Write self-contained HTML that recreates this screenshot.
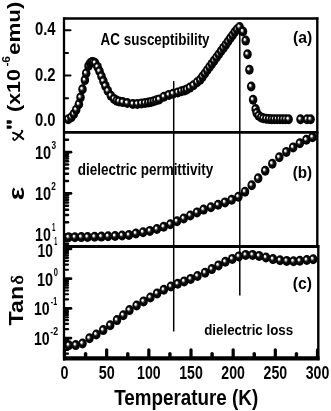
<!DOCTYPE html><html><head><meta charset="utf-8"><style>html,body{margin:0;padding:0;background:#fff;}svg{display:block;filter:grayscale(1);}</style></head><body><svg width="331" height="411" viewBox="0 0 331 411">
<defs><radialGradient id="sph" cx="0.5" cy="0.5" r="0.5" fx="0.34" fy="0.36"><stop offset="0" stop-color="#ffffff"/><stop offset="0.18" stop-color="#eeeeee"/><stop offset="0.37" stop-color="#404040"/><stop offset="0.52" stop-color="#0a0a0a"/><stop offset="1" stop-color="#000"/></radialGradient></defs>
<rect width="331" height="411" fill="#fff"/>
<g stroke="#000" stroke-width="1.5">
<line x1="173.7" y1="81" x2="173.7" y2="331.5"/>
<line x1="239.8" y1="25" x2="239.8" y2="295.5"/>
</g>
<g stroke="#000" stroke-linecap="round" stroke-width="2">
<line x1="64.50" y1="357" x2="64.50" y2="349.8" stroke-width="3.2"/>
<line x1="85.58" y1="357" x2="85.58" y2="353.6" stroke-width="3.4"/>
<line x1="106.67" y1="357" x2="106.67" y2="349.8" stroke-width="3.2"/>
<line x1="127.75" y1="357" x2="127.75" y2="353.6" stroke-width="3.4"/>
<line x1="148.83" y1="357" x2="148.83" y2="349.8" stroke-width="3.2"/>
<line x1="169.92" y1="357" x2="169.92" y2="353.6" stroke-width="3.4"/>
<line x1="191.00" y1="357" x2="191.00" y2="349.8" stroke-width="3.2"/>
<line x1="212.08" y1="357" x2="212.08" y2="353.6" stroke-width="3.4"/>
<line x1="233.17" y1="357" x2="233.17" y2="349.8" stroke-width="3.2"/>
<line x1="254.25" y1="357" x2="254.25" y2="353.6" stroke-width="3.4"/>
<line x1="275.33" y1="357" x2="275.33" y2="349.8" stroke-width="3.2"/>
<line x1="296.42" y1="357" x2="296.42" y2="353.6" stroke-width="3.4"/>
<line x1="317.50" y1="357" x2="317.50" y2="349.8" stroke-width="3.2"/>
<line x1="65" y1="98.25" x2="68" y2="98.25"/>
<line x1="65" y1="52.95" x2="68" y2="52.95"/>
<line x1="65" y1="75.60" x2="70.5" y2="75.60"/>
<line x1="65" y1="30.30" x2="70.5" y2="30.30"/>
<line x1="65" y1="243.74" x2="68" y2="243.74" stroke-width="2.5"/>
<line x1="65" y1="240.98" x2="68" y2="240.98" stroke-width="2.5"/>
<line x1="65" y1="238.59" x2="68" y2="238.59" stroke-width="2.5"/>
<line x1="65" y1="236.49" x2="68" y2="236.49" stroke-width="2.5"/>
<line x1="65" y1="234.60" x2="71" y2="234.60" stroke-width="2.7"/>
<line x1="65" y1="222.20" x2="68" y2="222.20" stroke-width="2.5"/>
<line x1="65" y1="214.94" x2="68" y2="214.94" stroke-width="2.5"/>
<line x1="65" y1="209.80" x2="68" y2="209.80" stroke-width="2.5"/>
<line x1="65" y1="205.80" x2="68" y2="205.80" stroke-width="2.5"/>
<line x1="65" y1="202.54" x2="68" y2="202.54" stroke-width="2.5"/>
<line x1="65" y1="199.78" x2="68" y2="199.78" stroke-width="2.5"/>
<line x1="65" y1="197.39" x2="68" y2="197.39" stroke-width="2.5"/>
<line x1="65" y1="195.29" x2="68" y2="195.29" stroke-width="2.5"/>
<line x1="65" y1="193.40" x2="71" y2="193.40" stroke-width="2.7"/>
<line x1="65" y1="181.00" x2="68" y2="181.00" stroke-width="2.5"/>
<line x1="65" y1="173.74" x2="68" y2="173.74" stroke-width="2.5"/>
<line x1="65" y1="168.60" x2="68" y2="168.60" stroke-width="2.5"/>
<line x1="65" y1="164.60" x2="68" y2="164.60" stroke-width="2.5"/>
<line x1="65" y1="161.34" x2="68" y2="161.34" stroke-width="2.5"/>
<line x1="65" y1="158.58" x2="68" y2="158.58" stroke-width="2.5"/>
<line x1="65" y1="156.19" x2="68" y2="156.19" stroke-width="2.5"/>
<line x1="65" y1="154.09" x2="68" y2="154.09" stroke-width="2.5"/>
<line x1="65" y1="152.20" x2="71" y2="152.20" stroke-width="2.7"/>
<line x1="65" y1="139.80" x2="68" y2="139.80" stroke-width="2.5"/>
<line x1="65" y1="353.63" x2="68" y2="353.63" stroke-width="2.2"/>
<line x1="65" y1="349.92" x2="68" y2="349.92" stroke-width="2.2"/>
<line x1="65" y1="347.04" x2="68" y2="347.04" stroke-width="2.2"/>
<line x1="65" y1="344.69" x2="68" y2="344.69" stroke-width="2.2"/>
<line x1="65" y1="342.70" x2="68" y2="342.70" stroke-width="2.2"/>
<line x1="65" y1="340.98" x2="68" y2="340.98" stroke-width="2.2"/>
<line x1="65" y1="339.46" x2="68" y2="339.46" stroke-width="2.2"/>
<line x1="65" y1="338.10" x2="71" y2="338.10" stroke-width="2.7"/>
<line x1="65" y1="329.16" x2="68" y2="329.16" stroke-width="2.2"/>
<line x1="65" y1="323.93" x2="68" y2="323.93" stroke-width="2.2"/>
<line x1="65" y1="320.22" x2="68" y2="320.22" stroke-width="2.2"/>
<line x1="65" y1="317.34" x2="68" y2="317.34" stroke-width="2.2"/>
<line x1="65" y1="314.99" x2="68" y2="314.99" stroke-width="2.2"/>
<line x1="65" y1="313.00" x2="68" y2="313.00" stroke-width="2.2"/>
<line x1="65" y1="311.28" x2="68" y2="311.28" stroke-width="2.2"/>
<line x1="65" y1="309.76" x2="68" y2="309.76" stroke-width="2.2"/>
<line x1="65" y1="308.40" x2="71" y2="308.40" stroke-width="2.7"/>
<line x1="65" y1="299.46" x2="68" y2="299.46" stroke-width="2.2"/>
<line x1="65" y1="294.23" x2="68" y2="294.23" stroke-width="2.2"/>
<line x1="65" y1="290.52" x2="68" y2="290.52" stroke-width="2.2"/>
<line x1="65" y1="287.64" x2="68" y2="287.64" stroke-width="2.2"/>
<line x1="65" y1="285.29" x2="68" y2="285.29" stroke-width="2.2"/>
<line x1="65" y1="283.30" x2="68" y2="283.30" stroke-width="2.2"/>
<line x1="65" y1="281.58" x2="68" y2="281.58" stroke-width="2.2"/>
<line x1="65" y1="280.06" x2="68" y2="280.06" stroke-width="2.2"/>
<line x1="65" y1="278.70" x2="71" y2="278.70" stroke-width="2.7"/>
<line x1="65" y1="269.76" x2="68" y2="269.76" stroke-width="2.2"/>
<line x1="65" y1="264.53" x2="68" y2="264.53" stroke-width="2.2"/>
<line x1="65" y1="260.82" x2="68" y2="260.82" stroke-width="2.2"/>
<line x1="65" y1="257.94" x2="68" y2="257.94" stroke-width="2.2"/>
<line x1="65" y1="255.59" x2="68" y2="255.59" stroke-width="2.2"/>
<line x1="65" y1="253.60" x2="68" y2="253.60" stroke-width="2.2"/>
<line x1="65" y1="251.88" x2="68" y2="251.88" stroke-width="2.2"/>
<line x1="65" y1="250.36" x2="68" y2="250.36" stroke-width="2.2"/>
<line x1="65" y1="249.00" x2="71" y2="249.00" stroke-width="2.7"/>
</g>
<g>
<ellipse cx="68.20" cy="119.30" rx="4.25" ry="5.0" fill="url(#sph)"/>
<ellipse cx="71.40" cy="117.20" rx="4.25" ry="5.0" fill="url(#sph)"/>
<ellipse cx="73.90" cy="114.00" rx="4.25" ry="5.0" fill="url(#sph)"/>
<ellipse cx="76.20" cy="109.70" rx="4.25" ry="5.0" fill="url(#sph)"/>
<ellipse cx="78.90" cy="104.30" rx="4.25" ry="5.0" fill="url(#sph)"/>
<ellipse cx="80.50" cy="97.40" rx="4.25" ry="5.0" fill="url(#sph)"/>
<ellipse cx="82.50" cy="89.30" rx="4.25" ry="5.0" fill="url(#sph)"/>
<ellipse cx="84.90" cy="80.10" rx="4.25" ry="5.0" fill="url(#sph)"/>
<ellipse cx="86.20" cy="73.30" rx="4.25" ry="5.0" fill="url(#sph)"/>
<ellipse cx="88.50" cy="66.00" rx="4.25" ry="5.0" fill="url(#sph)"/>
<ellipse cx="90.20" cy="63.20" rx="4.25" ry="5.0" fill="url(#sph)"/>
<ellipse cx="92.00" cy="62.10" rx="4.25" ry="5.0" fill="url(#sph)"/>
<ellipse cx="93.60" cy="62.20" rx="4.25" ry="5.0" fill="url(#sph)"/>
<ellipse cx="95.10" cy="63.00" rx="4.25" ry="5.0" fill="url(#sph)"/>
<ellipse cx="97.60" cy="66.90" rx="4.25" ry="5.0" fill="url(#sph)"/>
<ellipse cx="99.50" cy="71.30" rx="4.25" ry="5.0" fill="url(#sph)"/>
<ellipse cx="101.50" cy="76.20" rx="4.25" ry="5.0" fill="url(#sph)"/>
<ellipse cx="103.40" cy="81.10" rx="4.25" ry="5.0" fill="url(#sph)"/>
<ellipse cx="105.40" cy="85.90" rx="4.25" ry="5.0" fill="url(#sph)"/>
<ellipse cx="107.80" cy="90.80" rx="4.25" ry="5.0" fill="url(#sph)"/>
<ellipse cx="110.90" cy="95.70" rx="4.25" ry="5.0" fill="url(#sph)"/>
<ellipse cx="114.10" cy="98.90" rx="4.25" ry="5.0" fill="url(#sph)"/>
<ellipse cx="116.80" cy="100.70" rx="4.25" ry="5.0" fill="url(#sph)"/>
<ellipse cx="119.10" cy="101.40" rx="4.25" ry="5.0" fill="url(#sph)"/>
<ellipse cx="122.70" cy="102.10" rx="4.25" ry="5.0" fill="url(#sph)"/>
<ellipse cx="127.30" cy="103.00" rx="4.25" ry="5.0" fill="url(#sph)"/>
<ellipse cx="132.90" cy="103.90" rx="4.25" ry="5.0" fill="url(#sph)"/>
<ellipse cx="137.40" cy="103.90" rx="4.25" ry="5.0" fill="url(#sph)"/>
<ellipse cx="141.50" cy="103.40" rx="4.25" ry="5.0" fill="url(#sph)"/>
<ellipse cx="145.10" cy="103.00" rx="4.25" ry="5.0" fill="url(#sph)"/>
<ellipse cx="148.30" cy="102.50" rx="4.25" ry="5.0" fill="url(#sph)"/>
<ellipse cx="151.00" cy="101.90" rx="4.25" ry="5.0" fill="url(#sph)"/>
<ellipse cx="153.70" cy="101.20" rx="4.25" ry="5.0" fill="url(#sph)"/>
<ellipse cx="156.40" cy="100.30" rx="4.25" ry="5.0" fill="url(#sph)"/>
<ellipse cx="159.20" cy="99.40" rx="4.25" ry="5.0" fill="url(#sph)"/>
<ellipse cx="163.90" cy="96.70" rx="4.25" ry="5.0" fill="url(#sph)"/>
<ellipse cx="168.80" cy="94.90" rx="4.25" ry="5.0" fill="url(#sph)"/>
<ellipse cx="173.00" cy="93.70" rx="4.25" ry="5.0" fill="url(#sph)"/>
<ellipse cx="177.80" cy="92.40" rx="4.25" ry="5.0" fill="url(#sph)"/>
<ellipse cx="181.40" cy="91.20" rx="4.25" ry="5.0" fill="url(#sph)"/>
<ellipse cx="184.50" cy="90.40" rx="4.25" ry="5.0" fill="url(#sph)"/>
<ellipse cx="186.90" cy="89.40" rx="4.25" ry="5.0" fill="url(#sph)"/>
<ellipse cx="189.90" cy="87.60" rx="4.25" ry="5.0" fill="url(#sph)"/>
<ellipse cx="193.50" cy="85.20" rx="4.25" ry="5.0" fill="url(#sph)"/>
<ellipse cx="197.10" cy="82.20" rx="4.25" ry="5.0" fill="url(#sph)"/>
<ellipse cx="200.20" cy="79.80" rx="4.25" ry="5.0" fill="url(#sph)"/>
<ellipse cx="202.53" cy="76.61" rx="4.25" ry="5.0" fill="url(#sph)"/>
<ellipse cx="204.85" cy="73.42" rx="4.25" ry="5.0" fill="url(#sph)"/>
<ellipse cx="207.18" cy="70.23" rx="4.25" ry="5.0" fill="url(#sph)"/>
<ellipse cx="209.51" cy="67.04" rx="4.25" ry="5.0" fill="url(#sph)"/>
<ellipse cx="211.84" cy="63.85" rx="4.25" ry="5.0" fill="url(#sph)"/>
<ellipse cx="214.16" cy="60.65" rx="4.25" ry="5.0" fill="url(#sph)"/>
<ellipse cx="216.49" cy="57.46" rx="4.25" ry="5.0" fill="url(#sph)"/>
<ellipse cx="218.82" cy="54.27" rx="4.25" ry="5.0" fill="url(#sph)"/>
<ellipse cx="221.15" cy="51.08" rx="4.25" ry="5.0" fill="url(#sph)"/>
<ellipse cx="223.47" cy="47.89" rx="4.25" ry="5.0" fill="url(#sph)"/>
<ellipse cx="225.80" cy="44.70" rx="4.25" ry="5.0" fill="url(#sph)"/>
<ellipse cx="228.00" cy="41.50" rx="4.25" ry="5.0" fill="url(#sph)"/>
<ellipse cx="230.30" cy="38.30" rx="4.25" ry="5.0" fill="url(#sph)"/>
<ellipse cx="232.60" cy="35.20" rx="4.25" ry="5.0" fill="url(#sph)"/>
<ellipse cx="234.80" cy="32.00" rx="4.25" ry="5.0" fill="url(#sph)"/>
<ellipse cx="237.10" cy="29.30" rx="4.25" ry="5.0" fill="url(#sph)"/>
<ellipse cx="239.60" cy="27.00" rx="4.25" ry="5.0" fill="url(#sph)"/>
<ellipse cx="243.00" cy="31.50" rx="4.25" ry="5.0" fill="url(#sph)"/>
<ellipse cx="245.70" cy="40.60" rx="4.25" ry="5.0" fill="url(#sph)"/>
<ellipse cx="247.50" cy="54.20" rx="4.25" ry="5.0" fill="url(#sph)"/>
<ellipse cx="249.40" cy="69.80" rx="4.25" ry="5.0" fill="url(#sph)"/>
<ellipse cx="251.20" cy="86.50" rx="4.25" ry="5.0" fill="url(#sph)"/>
<ellipse cx="253.10" cy="99.70" rx="4.25" ry="5.0" fill="url(#sph)"/>
<ellipse cx="255.60" cy="109.00" rx="4.25" ry="5.0" fill="url(#sph)"/>
<ellipse cx="256.70" cy="112.90" rx="4.25" ry="5.0" fill="url(#sph)"/>
<ellipse cx="258.70" cy="115.70" rx="4.25" ry="5.0" fill="url(#sph)"/>
<ellipse cx="261.20" cy="117.40" rx="4.25" ry="5.0" fill="url(#sph)"/>
<ellipse cx="263.40" cy="118.30" rx="4.25" ry="5.0" fill="url(#sph)"/>
<ellipse cx="266.20" cy="118.70" rx="4.25" ry="5.0" fill="url(#sph)"/>
<ellipse cx="269.00" cy="119.00" rx="4.25" ry="5.0" fill="url(#sph)"/>
<ellipse cx="271.80" cy="119.20" rx="4.25" ry="5.0" fill="url(#sph)"/>
<ellipse cx="274.40" cy="119.20" rx="4.25" ry="5.0" fill="url(#sph)"/>
<ellipse cx="277.20" cy="119.20" rx="4.25" ry="5.0" fill="url(#sph)"/>
<ellipse cx="280.00" cy="119.20" rx="4.25" ry="5.0" fill="url(#sph)"/>
<ellipse cx="282.80" cy="119.20" rx="4.25" ry="5.0" fill="url(#sph)"/>
<ellipse cx="285.60" cy="119.20" rx="4.25" ry="5.0" fill="url(#sph)"/>
<ellipse cx="288.60" cy="119.20" rx="4.25" ry="5.0" fill="url(#sph)"/>
<ellipse cx="300.50" cy="119.30" rx="4.25" ry="5.0" fill="url(#sph)"/>
<ellipse cx="307.00" cy="119.30" rx="4.25" ry="5.0" fill="url(#sph)"/>
<ellipse cx="310.60" cy="119.30" rx="4.25" ry="5.0" fill="url(#sph)"/>
<ellipse cx="68.60" cy="237.30" rx="4.25" ry="5.0" fill="url(#sph)"/>
<ellipse cx="74.90" cy="237.20" rx="4.25" ry="5.0" fill="url(#sph)"/>
<ellipse cx="81.30" cy="237.10" rx="4.25" ry="5.0" fill="url(#sph)"/>
<ellipse cx="87.60" cy="237.00" rx="4.25" ry="5.0" fill="url(#sph)"/>
<ellipse cx="94.60" cy="236.80" rx="4.25" ry="5.0" fill="url(#sph)"/>
<ellipse cx="101.40" cy="236.60" rx="4.25" ry="5.0" fill="url(#sph)"/>
<ellipse cx="108.10" cy="236.30" rx="4.25" ry="5.0" fill="url(#sph)"/>
<ellipse cx="115.10" cy="236.00" rx="4.25" ry="5.0" fill="url(#sph)"/>
<ellipse cx="122.10" cy="235.50" rx="4.25" ry="5.0" fill="url(#sph)"/>
<ellipse cx="128.90" cy="235.00" rx="4.25" ry="5.0" fill="url(#sph)"/>
<ellipse cx="135.90" cy="233.50" rx="4.25" ry="5.0" fill="url(#sph)"/>
<ellipse cx="143.10" cy="232.20" rx="4.25" ry="5.0" fill="url(#sph)"/>
<ellipse cx="149.90" cy="230.90" rx="4.25" ry="5.0" fill="url(#sph)"/>
<ellipse cx="156.90" cy="229.00" rx="4.25" ry="5.0" fill="url(#sph)"/>
<ellipse cx="163.70" cy="226.80" rx="4.25" ry="5.0" fill="url(#sph)"/>
<ellipse cx="170.40" cy="224.20" rx="4.25" ry="5.0" fill="url(#sph)"/>
<ellipse cx="177.00" cy="221.30" rx="4.25" ry="5.0" fill="url(#sph)"/>
<ellipse cx="183.70" cy="218.50" rx="4.25" ry="5.0" fill="url(#sph)"/>
<ellipse cx="190.30" cy="215.50" rx="4.25" ry="5.0" fill="url(#sph)"/>
<ellipse cx="197.00" cy="212.40" rx="4.25" ry="5.0" fill="url(#sph)"/>
<ellipse cx="203.60" cy="209.60" rx="4.25" ry="5.0" fill="url(#sph)"/>
<ellipse cx="210.90" cy="207.20" rx="4.25" ry="5.0" fill="url(#sph)"/>
<ellipse cx="218.10" cy="204.80" rx="4.25" ry="5.0" fill="url(#sph)"/>
<ellipse cx="225.00" cy="202.40" rx="4.25" ry="5.0" fill="url(#sph)"/>
<ellipse cx="231.70" cy="199.80" rx="4.25" ry="5.0" fill="url(#sph)"/>
<ellipse cx="238.40" cy="196.70" rx="4.25" ry="5.0" fill="url(#sph)"/>
<ellipse cx="245.00" cy="191.70" rx="4.25" ry="5.0" fill="url(#sph)"/>
<ellipse cx="251.70" cy="185.30" rx="4.25" ry="5.0" fill="url(#sph)"/>
<ellipse cx="258.20" cy="178.30" rx="4.25" ry="5.0" fill="url(#sph)"/>
<ellipse cx="265.20" cy="170.70" rx="4.25" ry="5.0" fill="url(#sph)"/>
<ellipse cx="272.30" cy="163.70" rx="4.25" ry="5.0" fill="url(#sph)"/>
<ellipse cx="279.30" cy="157.30" rx="4.25" ry="5.0" fill="url(#sph)"/>
<ellipse cx="286.30" cy="151.90" rx="4.25" ry="5.0" fill="url(#sph)"/>
<ellipse cx="293.10" cy="147.40" rx="4.25" ry="5.0" fill="url(#sph)"/>
<ellipse cx="299.80" cy="143.20" rx="4.25" ry="5.0" fill="url(#sph)"/>
<ellipse cx="306.40" cy="139.80" rx="4.25" ry="5.0" fill="url(#sph)"/>
<ellipse cx="312.50" cy="137.20" rx="4.25" ry="5.0" fill="url(#sph)"/>
<ellipse cx="68.80" cy="345.30" rx="4.25" ry="5.0" fill="url(#sph)"/>
<ellipse cx="75.70" cy="345.10" rx="4.25" ry="5.0" fill="url(#sph)"/>
<ellipse cx="82.50" cy="343.50" rx="4.25" ry="5.0" fill="url(#sph)"/>
<ellipse cx="89.50" cy="338.30" rx="4.25" ry="5.0" fill="url(#sph)"/>
<ellipse cx="96.30" cy="334.50" rx="4.25" ry="5.0" fill="url(#sph)"/>
<ellipse cx="103.20" cy="330.10" rx="4.25" ry="5.0" fill="url(#sph)"/>
<ellipse cx="110.20" cy="325.30" rx="4.25" ry="5.0" fill="url(#sph)"/>
<ellipse cx="117.00" cy="320.10" rx="4.25" ry="5.0" fill="url(#sph)"/>
<ellipse cx="123.30" cy="315.20" rx="4.25" ry="5.0" fill="url(#sph)"/>
<ellipse cx="129.50" cy="310.10" rx="4.25" ry="5.0" fill="url(#sph)"/>
<ellipse cx="136.60" cy="305.50" rx="4.25" ry="5.0" fill="url(#sph)"/>
<ellipse cx="143.60" cy="301.40" rx="4.25" ry="5.0" fill="url(#sph)"/>
<ellipse cx="150.40" cy="297.50" rx="4.25" ry="5.0" fill="url(#sph)"/>
<ellipse cx="157.10" cy="293.40" rx="4.25" ry="5.0" fill="url(#sph)"/>
<ellipse cx="163.80" cy="289.80" rx="4.25" ry="5.0" fill="url(#sph)"/>
<ellipse cx="170.90" cy="286.50" rx="4.25" ry="5.0" fill="url(#sph)"/>
<ellipse cx="177.70" cy="283.80" rx="4.25" ry="5.0" fill="url(#sph)"/>
<ellipse cx="184.20" cy="281.40" rx="4.25" ry="5.0" fill="url(#sph)"/>
<ellipse cx="190.70" cy="278.90" rx="4.25" ry="5.0" fill="url(#sph)"/>
<ellipse cx="197.50" cy="276.00" rx="4.25" ry="5.0" fill="url(#sph)"/>
<ellipse cx="205.10" cy="272.70" rx="4.25" ry="5.0" fill="url(#sph)"/>
<ellipse cx="211.80" cy="269.10" rx="4.25" ry="5.0" fill="url(#sph)"/>
<ellipse cx="218.50" cy="265.40" rx="4.25" ry="5.0" fill="url(#sph)"/>
<ellipse cx="225.40" cy="261.80" rx="4.25" ry="5.0" fill="url(#sph)"/>
<ellipse cx="232.30" cy="258.90" rx="4.25" ry="5.0" fill="url(#sph)"/>
<ellipse cx="238.80" cy="256.40" rx="4.25" ry="5.0" fill="url(#sph)"/>
<ellipse cx="245.70" cy="254.90" rx="4.25" ry="5.0" fill="url(#sph)"/>
<ellipse cx="252.60" cy="254.90" rx="4.25" ry="5.0" fill="url(#sph)"/>
<ellipse cx="259.10" cy="255.90" rx="4.25" ry="5.0" fill="url(#sph)"/>
<ellipse cx="266.00" cy="257.50" rx="4.25" ry="5.0" fill="url(#sph)"/>
<ellipse cx="273.00" cy="259.10" rx="4.25" ry="5.0" fill="url(#sph)"/>
<ellipse cx="280.00" cy="260.20" rx="4.25" ry="5.0" fill="url(#sph)"/>
<ellipse cx="286.70" cy="260.90" rx="4.25" ry="5.0" fill="url(#sph)"/>
<ellipse cx="293.50" cy="261.30" rx="4.25" ry="5.0" fill="url(#sph)"/>
<ellipse cx="299.80" cy="260.80" rx="4.25" ry="5.0" fill="url(#sph)"/>
<ellipse cx="306.80" cy="260.00" rx="4.25" ry="5.0" fill="url(#sph)"/>
<ellipse cx="313.20" cy="259.20" rx="4.25" ry="5.0" fill="url(#sph)"/>
</g>
<g stroke="#000" fill="none" stroke-linecap="butt">
<line x1="63" y1="18.6" x2="318.4" y2="18.6" stroke-width="2.5"/>
<line x1="63" y1="132.4" x2="318.4" y2="132.4" stroke-width="2.9"/>
<line x1="63" y1="246.5" x2="319.3" y2="246.5" stroke-width="2.9"/>
<line x1="63" y1="358.4" x2="319.6" y2="358.4" stroke-width="4.2"/>
<line x1="64" y1="17.4" x2="64" y2="360.4" stroke-width="2.3"/>
<line x1="317.3" y1="17.4" x2="317.3" y2="247" stroke-width="2.4"/>
<line x1="318.3" y1="245" x2="318.3" y2="360.2" stroke-width="2.4"/>
</g>
<g font-family="Liberation Sans" font-weight="bold" fill="#000">
<text x="64.50" y="379.4" font-size="18.4" text-anchor="middle" textLength="8.0" lengthAdjust="spacingAndGlyphs" >0</text>
<text x="106.67" y="379.4" font-size="18.4" text-anchor="middle" textLength="16.0" lengthAdjust="spacingAndGlyphs" >50</text>
<text x="148.83" y="379.4" font-size="18.4" text-anchor="middle" textLength="23.6" lengthAdjust="spacingAndGlyphs" >100</text>
<text x="191.00" y="379.4" font-size="18.4" text-anchor="middle" textLength="23.6" lengthAdjust="spacingAndGlyphs" >150</text>
<text x="233.17" y="379.4" font-size="18.4" text-anchor="middle" textLength="23.6" lengthAdjust="spacingAndGlyphs" >200</text>
<text x="275.33" y="379.4" font-size="18.4" text-anchor="middle" textLength="23.6" lengthAdjust="spacingAndGlyphs" >250</text>
<text x="317.50" y="379.4" font-size="18.4" text-anchor="middle" textLength="23.6" lengthAdjust="spacingAndGlyphs" >300</text>
<text x="186.2" y="404.5" font-size="22.8" text-anchor="middle" textLength="144.0" lengthAdjust="spacingAndGlyphs" >Temperature (K)</text>
<text x="55.6" y="35.30" font-size="18.1" text-anchor="end" textLength="20.6" lengthAdjust="spacingAndGlyphs" >0.4</text>
<text x="55.6" y="80.60" font-size="18.1" text-anchor="end" textLength="20.6" lengthAdjust="spacingAndGlyphs" >0.2</text>
<text x="55.6" y="125.90" font-size="18.1" text-anchor="end" textLength="20.6" lengthAdjust="spacingAndGlyphs" >0.0</text>
<text x="100.6" y="44.6" font-size="16.3" text-anchor="start" textLength="109.0" lengthAdjust="spacingAndGlyphs" >AC susceptibility</text>
<text x="293.0" y="42.6" font-size="16.4" text-anchor="start" textLength="19.2" lengthAdjust="spacingAndGlyphs" >(a)</text>
<text x="77.8" y="175.0" font-size="15.8" text-anchor="start" textLength="135.5" lengthAdjust="spacingAndGlyphs" >dielectric permittivity</text>
<text x="292.7" y="178.0" font-size="16.4" text-anchor="start" textLength="19.4" lengthAdjust="spacingAndGlyphs" >(b)</text>
<text x="204.2" y="335.0" font-size="15.4" text-anchor="start" textLength="89.0" lengthAdjust="spacingAndGlyphs" >dielectric loss</text>
<text x="292.8" y="288.8" font-size="16.4" text-anchor="start" textLength="19.2" lengthAdjust="spacingAndGlyphs" >(c)</text>
</g>
<text x="35.0" y="159.3" font-family="Liberation Sans" font-weight="bold" font-size="18" textLength="16.20" lengthAdjust="spacingAndGlyphs">10</text><text x="51.4" y="149.2" font-family="Liberation Sans" font-weight="bold" font-size="10" textLength="4.60" lengthAdjust="spacingAndGlyphs">3</text>
<text x="35.0" y="200.3" font-family="Liberation Sans" font-weight="bold" font-size="18" textLength="16.20" lengthAdjust="spacingAndGlyphs">10</text><text x="51.2" y="189.7" font-family="Liberation Sans" font-weight="bold" font-size="10" textLength="4.60" lengthAdjust="spacingAndGlyphs">2</text>
<text x="35.0" y="240.9" font-family="Liberation Sans" font-weight="bold" font-size="18" textLength="15.80" lengthAdjust="spacingAndGlyphs">10</text><text x="51.9" y="231.2" font-family="Liberation Sans" font-weight="bold" font-size="10" textLength="3.40" lengthAdjust="spacingAndGlyphs">1</text>
<text x="37.5" y="256.5" font-family="Liberation Sans" font-weight="bold" font-size="18" textLength="15.30" lengthAdjust="spacingAndGlyphs">10</text><text x="54.3" y="245.3" font-family="Liberation Sans" font-weight="bold" font-size="10" textLength="3.00" lengthAdjust="spacingAndGlyphs">1</text>
<text x="37.0" y="285.8" font-family="Liberation Sans" font-weight="bold" font-size="18" textLength="16.10" lengthAdjust="spacingAndGlyphs">10</text><text x="53.8" y="275.6" font-family="Liberation Sans" font-weight="bold" font-size="10" textLength="4.20" lengthAdjust="spacingAndGlyphs">0</text>
<text x="34.0" y="315.3" font-family="Liberation Sans" font-weight="bold" font-size="18" textLength="15.70" lengthAdjust="spacingAndGlyphs">10</text><text x="50.8" y="305.1" font-family="Liberation Sans" font-weight="bold" font-size="10" textLength="6.30" lengthAdjust="spacingAndGlyphs">-1</text>
<text x="34.0" y="344.8" font-family="Liberation Sans" font-weight="bold" font-size="18" textLength="15.70" lengthAdjust="spacingAndGlyphs">10</text><text x="50.3" y="335.1" font-family="Liberation Sans" font-weight="bold" font-size="10" textLength="7.80" lengthAdjust="spacingAndGlyphs">-2</text>
<path d="M13.1,132.8 C16,133.6 19.8,135.9 23.2,139.1" stroke="#000" stroke-width="2.1" fill="none" stroke-linecap="round"/>
<path d="M13.2,138.2 C12.8,140.3 14.6,140.6 16.2,139.0 L21.0,133.4 C22.6,132.0 23.0,130.9 21.7,130.7" stroke="#000" stroke-width="1.7" fill="none" stroke-linecap="round"/>
<path d="M6.7,120.3 H10.4 Q11.9,120.3 11.9,122.0 Q11.9,123.8 10.4,123.8 H6.7 Z M6.7,125.4 H10.4 Q11.9,125.4 11.9,127.05 Q11.9,128.7 10.4,128.7 H6.7 Z" fill="#000"/>
<text transform="translate(20.0,112.0) scale(0.85,1) rotate(-90)" font-family="Liberation Sans" font-weight="bold" font-size="21.5">(x10</text>
<text transform="translate(10.4,66.6) scale(0.85,1) rotate(-90)" font-family="Liberation Sans" font-weight="bold" font-size="13" textLength="10.6" lengthAdjust="spacingAndGlyphs">-6</text>
<text transform="translate(20.0,55.0) scale(0.85,1) rotate(-90)" font-family="Liberation Sans" font-weight="bold" font-size="21.5" textLength="53.5" lengthAdjust="spacingAndGlyphs">emu)</text>
<text transform="translate(24.2,200.3) scale(0.85,1) rotate(-90)" font-family="Liberation Sans" font-weight="bold" font-size="26.5" textLength="13.4" lengthAdjust="spacingAndGlyphs">ε</text>
<text transform="translate(23.4,325.4) scale(0.85,1) rotate(-90)" font-family="Liberation Sans" font-weight="bold" font-size="22.8" textLength="39.6" lengthAdjust="spacingAndGlyphs">Tan</text>
<text stroke="#000" stroke-width="0.7" transform="translate(23.4,284.6) scale(0.85,1) rotate(-90)" font-family="Liberation Serif" font-weight="normal" font-size="20.5" textLength="9.2" lengthAdjust="spacingAndGlyphs">δ</text>
</svg></body></html>
